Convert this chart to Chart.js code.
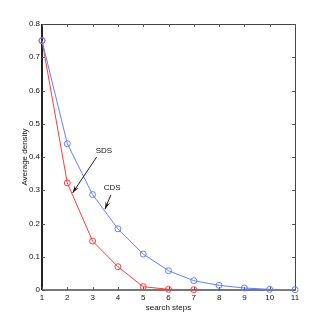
<!DOCTYPE html>
<html>
<head>
<meta charset="utf-8">
<script src="https://cdn.jsdelivr.net/npm/chart.js@4.4.1/dist/chart.umd.min.js"></script>
<style>
  html, body { margin: 0; padding: 0; background: #fff; }
  #wrap { width: 327px; height: 327px; }
</style>
</head>
<body>
<div id="wrap"><canvas id="c" width="327" height="327"></canvas></div>
<script>
// Average density vs search steps, CDS vs SDS
const steps = [1, 2, 3, 4, 5, 6, 7, 8, 9, 10, 11];
const cdsValues = [0.75, 0.44, 0.287, 0.184, 0.108, 0.058, 0.028, 0.014, 0.006, 0.002, 0.001];
const sdsValues = [0.75, 0.322, 0.147, 0.07, 0.01, 0.002, 0.001];
const yTicks = [0, 0.1, 0.2, 0.3, 0.4, 0.5, 0.6, 0.7, 0.8];

// label text, label position, arrow tail, arrow head (data units)
const notes = [
  { text: 'SDS', at: [3.45, 0.42], from: [3.16, 0.40], to: [2.21, 0.292] },
  { text: 'CDS', at: [3.77, 0.307], from: [3.72, 0.286], to: [3.49, 0.243] },
];

const FONT = 'Liberation Sans, Arial, Helvetica, sans-serif';
const AXIS = '#222';

const toPts = (xs, ys) => ys.map((y, i) => ({ x: xs[i], y }));

// box around the plot with inward ticks on all four sides
const frame = {
  id: 'frame',
  beforeDatasetsDraw(chart) {
    const { ctx, chartArea: a, scales: { x, y } } = chart;
    ctx.save();
    ctx.strokeStyle = '#444';
    ctx.lineWidth = 1;
    ctx.strokeRect(a.left + 0.5, a.top + 0.5, a.right - a.left, a.bottom - a.top);
    // heavier left and bottom axes
    ctx.strokeStyle = AXIS;
    ctx.lineWidth = 2;
    ctx.beginPath(); ctx.moveTo(a.left, a.top); ctx.lineTo(a.left, a.bottom); ctx.stroke();
    ctx.strokeStyle = '#777';
    ctx.beginPath(); ctx.moveTo(a.left, a.bottom); ctx.lineTo(a.right + 1, a.bottom); ctx.stroke();
    ctx.strokeStyle = '#555';
    ctx.lineWidth = 1;
    ctx.beginPath();
    steps.forEach(s => {
      const px = Math.round(x.getPixelForValue(s)) + 0.5;
      ctx.moveTo(px, a.bottom); ctx.lineTo(px, a.bottom - 3);
      ctx.moveTo(px, a.top); ctx.lineTo(px, a.top + 3);
    });
    yTicks.forEach(v => {
      const py = Math.round(y.getPixelForValue(v)) + 0.5;
      ctx.moveTo(a.left, py); ctx.lineTo(a.left + 3, py);
      ctx.moveTo(a.right, py); ctx.lineTo(a.right - 3, py);
    });
    ctx.stroke();
    ctx.restore();
  },
  afterDatasetsDraw(chart) {
    const { ctx, scales: { x, y } } = chart;
    ctx.save();
    ctx.font = '8px ' + FONT;
    ctx.fillStyle = '#111';
    ctx.strokeStyle = '#222';
    ctx.lineWidth = 1;
    ctx.textAlign = 'center';
    ctx.textBaseline = 'middle';
    notes.forEach(n => {
      ctx.fillText(n.text, x.getPixelForValue(n.at[0]), y.getPixelForValue(n.at[1]));
      const x0 = x.getPixelForValue(n.from[0]), y0 = y.getPixelForValue(n.from[1]);
      const x1 = x.getPixelForValue(n.to[0]), y1 = y.getPixelForValue(n.to[1]);
      ctx.beginPath(); ctx.moveTo(x0, y0); ctx.lineTo(x1, y1); ctx.stroke();
      const ang = Math.atan2(y1 - y0, x1 - x0);
      const len = 8, w = 0.3;
      ctx.beginPath();
      ctx.moveTo(x1, y1);
      ctx.lineTo(x1 - len * Math.cos(ang - w), y1 - len * Math.sin(ang - w));
      ctx.lineTo(x1 - len * 0.6 * Math.cos(ang), y1 - len * 0.6 * Math.sin(ang));
      ctx.lineTo(x1 - len * Math.cos(ang + w), y1 - len * Math.sin(ang + w));
      ctx.closePath();
      ctx.fillStyle = '#111';
      ctx.fill();
    });
    ctx.restore();
  }
};

new Chart(document.getElementById('c'), {
  type: 'line',
  data: {
    datasets: [
      { label: 'CDS', data: toPts(steps, cdsValues), borderColor: '#6080ff', borderWidth: 1,
        pointStyle: 'circle', pointRadius: 3, pointBorderColor: '#6080ff', pointBackgroundColor: 'rgba(0,0,0,0)',
        pointBorderWidth: 1, tension: 0, clip: false },
      { label: 'SDS', data: toPts(steps, sdsValues), borderColor: '#ff3a3a', borderWidth: 1,
        pointStyle: 'circle', pointRadius: 3, pointBorderColor: '#ff3a3a', pointBackgroundColor: 'rgba(0,0,0,0)',
        pointBorderWidth: 1, tension: 0, clip: false },
    ],
  },
  options: {
    responsive: false,
    animation: false,
    devicePixelRatio: 1,
    layout: { padding: { left: 0, top: 24, right: 32, bottom: 0 } },
    plugins: { legend: { display: false }, tooltip: { enabled: false } },
    scales: {
      x: {
        type: 'linear', min: 1, max: 11,
        grid: { display: false, drawTicks: false }, border: { display: false },
        ticks: { stepSize: 1, padding: 3, color: '#111', font: { family: FONT, size: 8 } },
        title: { display: true, text: 'search steps', color: '#111', padding: { top: 2, bottom: 14 }, font: { family: FONT, size: 8 } },
        afterFit(s) { s.height = 37; },
      },
      y: {
        min: 0, max: 0.8,
        grid: { display: false, drawTicks: false }, border: { display: false },
        ticks: { stepSize: 0.1, padding: 2, color: '#111', font: { family: FONT, size: 8 },
          callback: v => String(+v.toFixed(1)) },
        title: { display: true, text: 'Average density', color: '#111', padding: { top: 20, bottom: 0 }, font: { family: FONT, size: 8 } },
        afterFit(s) { s.width = 42; },
      },
    },
  },
  plugins: [frame],
});
</script>
</body>
</html>
